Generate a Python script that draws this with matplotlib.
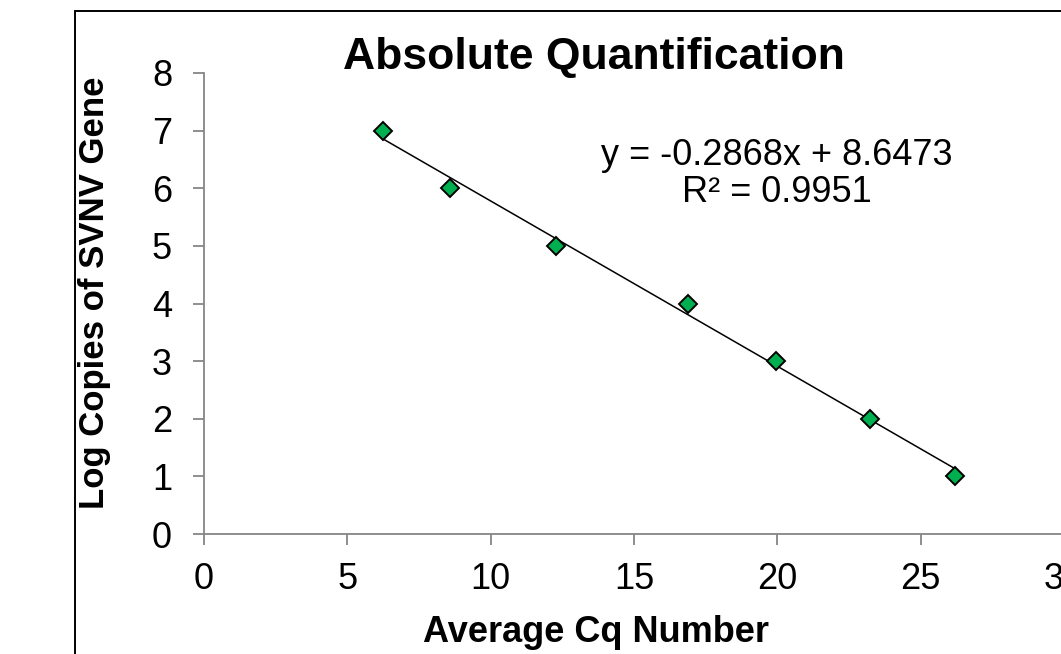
import numpy as np
import matplotlib.pyplot as plt
from matplotlib.patches import Rectangle

plt.rcParams['font.family'] = ['Liberation Sans', 'DejaVu Sans']

# data
cq_avg = [6.24, 8.58, 12.28, 16.90, 19.96, 23.24, 26.21]
log_copies = [7, 6, 5, 4, 3, 2, 1]
slope = -0.2868
intercept = 8.6473
r_squared = 0.9951

x_ticks = [0, 5, 10, 15, 20, 25, 30]
y_ticks = [0, 1, 2, 3, 4, 5, 6, 7, 8]

W, H = 1061, 654
fig = plt.figure(figsize=(W / 100, H / 100), dpi=100)

# chart border (cropped on right and bottom like the original)
fig.patches.append(Rectangle((75 / W, -0.05), 1.2, 1 - 11 / H + 0.05,
                             transform=fig.transFigure, fill=False,
                             edgecolor='black', linewidth=1.4))

ax = fig.add_axes([204 / W, 1 - 534 / H, (1064 - 204) / W, (534 - 73) / H])
ax.set_xlim(0, 30)
ax.set_ylim(0, 8)

xs = np.array([cq_avg[0], cq_avg[-1]])
ax.plot(xs, slope * xs + intercept, color='black', linewidth=1.1, zorder=2)
ax.plot(cq_avg, log_copies, linestyle='none', marker='D', markersize=9.5,
        markerfacecolor='#00B050', markeredgecolor='black', markeredgewidth=1.4,
        zorder=3, clip_on=False)

ax.set_xticks(x_ticks)
ax.set_yticks(y_ticks)
for s in ['top', 'right']:
    ax.spines[s].set_visible(False)
for s in ['left', 'bottom']:
    ax.spines[s].set_color('#868686')
    ax.spines[s].set_linewidth(1.3)
ax.tick_params(axis='both', colors='#868686', labelcolor='black', length=8,
               width=1.3, labelsize=26)
ax.tick_params(axis='y', pad=15)
ax.tick_params(axis='x', pad=12)

fig.text(594 / W, 1 - 57 / H, 'Absolute Quantification', fontsize=32,
         fontweight='bold', ha='center', va='center')
fig.text(596 / W, 1 - 633 / H, 'Average Cq Number', fontsize=26,
         fontweight='bold', ha='center', va='center')
fig.text(95 / W, 1 - 293 / H, 'Log Copies of SVNV Gene', fontsize=25,
         fontweight='bold', ha='center', va='center', rotation=90)
fig.text(777 / W, 1 - 174 / H, f'y = {slope}x + {intercept}\nR\u00b2 = {r_squared}',
         fontsize=26, ha='center', va='center', linespacing=1.1)

fig.savefig('out.png', dpi=100)
